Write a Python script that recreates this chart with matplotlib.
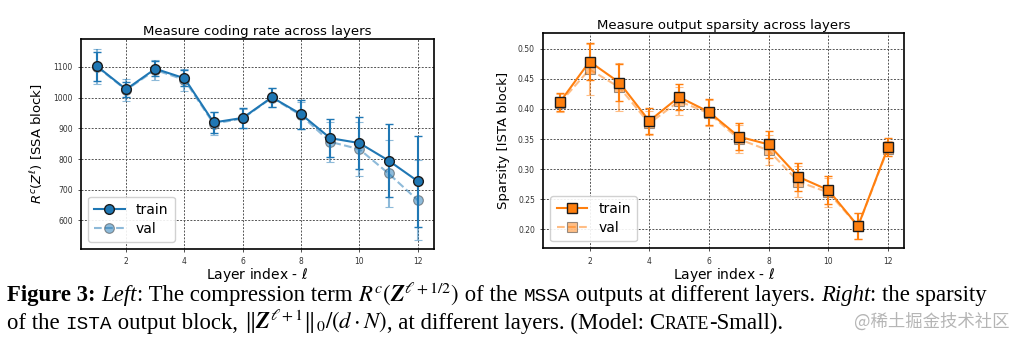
import matplotlib
matplotlib.use("Agg")
import matplotlib.pyplot as plt

plt.rcParams['mathtext.fontset'] = 'custom'
plt.rcParams['mathtext.rm'] = 'STIXGeneral'
plt.rcParams['mathtext.it'] = 'STIXGeneral:italic'
plt.rcParams['mathtext.bf'] = 'STIXGeneral:bold'
plt.rcParams['mathtext.bfit'] = 'STIXGeneral:italic:bold'
plt.rcParams['mathtext.tt'] = 'DejaVu Sans Mono'

layers = list(range(1, 13))

# coding rate of the SSA block
rate_train = [1102, 1027, 1094, 1063, 919, 934, 1001, 946, 868, 852, 795, 728]
rate_train_err = [47, 25, 24, 26, 34, 33, 31, 47, 63, 85, 120, 148]
rate_val = [1100, 1025, 1090, 1058, 915, 932, 1000, 942, 856, 832, 753, 666]
rate_val_err = [57, 36, 33, 35, 38, 30, 30, 45, 66, 88, 110, 130]

# sparsity of the ISTA block
sp_train = [0.411, 0.479, 0.444, 0.380, 0.420, 0.395, 0.354, 0.341, 0.287, 0.265, 0.205, 0.336]
sp_train_err = [0.015, 0.031, 0.031, 0.021, 0.022, 0.022, 0.023, 0.022, 0.023, 0.023, 0.021, 0.015]
sp_val = [0.410, 0.466, 0.436, 0.376, 0.413, 0.393, 0.350, 0.331, 0.279, 0.261, 0.205, 0.334]
sp_val_err = [0.015, 0.042, 0.040, 0.020, 0.023, 0.022, 0.024, 0.025, 0.026, 0.024, 0.021, 0.013]

rate_ticks = [600, 700, 800, 900, 1000, 1100]
sp_ticks = [0.20, 0.25, 0.30, 0.35, 0.40, 0.45, 0.50]

fig = plt.figure(figsize=(10.11, 3.44), dpi=100)
ax1 = fig.add_axes([0.0801, 0.2762, 0.3489, 0.6096])
ax2 = fig.add_axes([0.5374, 0.2782, 0.3571, 0.6267])


def draw(ax, ytr, etr, yva, eva, color, marker):
    tr = ax.errorbar(layers, ytr, yerr=etr, color=color, marker=marker, markersize=7,
                     markeredgecolor='#1b1b1b', markeredgewidth=1.0, linewidth=1.5,
                     elinewidth=1.5, capsize=3, label='train', zorder=3)
    va = ax.errorbar(layers, yva, yerr=eva, color=color, marker=marker, markersize=7,
                     markeredgecolor='#333333', markeredgewidth=0.8, linewidth=1.5,
                     linestyle='--', elinewidth=1.5, capsize=3, alpha=0.5,
                     label='val', zorder=2)
    ax.grid(True, linestyle=(0, (2, 1.5)), color='#555555', linewidth=0.7)
    ax.set_axisbelow(True)
    ax.set_xticks([2, 4, 6, 8, 10, 12])
    ax.tick_params(labelsize=5.5, length=2.5, width=0.6, colors='#333333')
    for s in ax.spines.values():
        s.set_linewidth(1.2)
    ax.set_xlim(0.45, 12.55)
    ax.set_xlabel(r'Layer index - $\ell$', fontsize=10, labelpad=0,
                  math_fontfamily='dejavusans')
    # legend shows only the line + marker, not the error bars
    ax.legend([tr[0], va[0]], ['train', 'val'], loc='lower left', fontsize=10,
              handlelength=2.2, borderpad=0.45, labelspacing=0.35, framealpha=0.9,
              edgecolor='#cccccc', fancybox=True)


draw(ax1, rate_train, rate_train_err, rate_val, rate_val_err, '#1f77b4', 'o')
ax1.set_ylim(507, 1190)
ax1.set_yticks(rate_ticks)
ax1.set_title('Measure coding rate across layers', fontsize=9.5, pad=3)
ax1.set_ylabel(r'$R^c(Z^\ell)$ [SSA block]', fontsize=9.5, labelpad=6,
               math_fontfamily='dejavusans')

draw(ax2, sp_train, sp_train_err, sp_val, sp_val_err, '#ff7f0e', 's')
ax2.set_ylim(0.168, 0.527)
ax2.set_yticks(sp_ticks)
ax2.set_yticklabels([f'{t:.2f}' for t in sp_ticks])
ax2.set_title('Measure output sparsity across layers', fontsize=9.5, pad=3)
ax2.set_ylabel('Sparsity [ISTA block]', fontsize=9.5, labelpad=6)

# caption, written piece by piece so fonts can be mixed on one line
FS = 16.4
serif = 'Liberation Serif'
mono = 'Liberation Mono'
renderer = fig.canvas.get_renderer()
fig_w = fig.get_figwidth() * fig.dpi


def caption_line(x, y, parts):
    for s, kw in parts:
        opts = dict(fontsize=FS, family=serif, va='baseline')
        opts.update(kw)
        t = fig.text(x, y, s, **opts)
        x += t.get_window_extent(renderer).width / fig_w
    return x


caption_line(0.007, 1 - 301 / 344, [
    ('Figure 3:', dict(weight='bold')),
    (' ', {}),
    ('Left', dict(style='italic')),
    (': The compression term ', {}),
    (r'$R^c(\mathbfit{Z}^{\ell+1/2})$', {}),
    (' of the ', {}),
    ('MSSA', dict(family=mono, fontsize=FS * 0.85)),
    (' outputs at different layers. ', {}),
    ('Right', dict(style='italic')),
    (': the sparsity', {}),
])
caption_line(0.007, 1 - 329 / 344, [
    ('of the ', {}),
    ('ISTA', dict(family=mono, fontsize=FS * 0.85)),
    (' output block, ', {}),
    (r'$\|\mathbfit{Z}^{\ell+1}\|_0/(d\cdot N)$', {}),
    (', at different layers. (Model: ', {}),
    ('C', {}),
    ('RATE', dict(fontsize=FS * 0.78)),
    ('-Small).', {}),
])
fig.text(0.999, 1 - 322 / 344, '@稀土掘金技术社区', fontsize=12.5, color='#b5b5b5',
         family=['Noto Sans CJK SC', 'DejaVu Sans'], ha='right', va='center')

fig.savefig('out.png', dpi=100)
